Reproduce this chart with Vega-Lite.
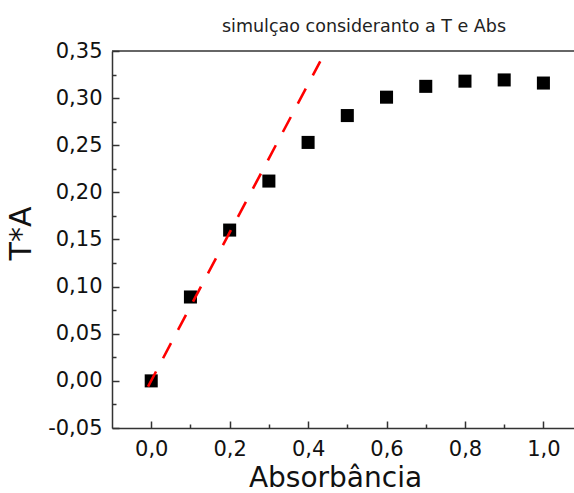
{
  "$schema": "https://vega.github.io/schema/vega-lite/v6.json",
  "autosize": {"type": "none"},
  "padding": {"left": 112, "top": 51, "right": 0, "bottom": 65},
  "width": 462,
  "height": 377,
  "background": "white",
  "config": {
    "view": {"stroke": null},
    "font": "DejaVu Sans",
    "axis": {"labelFont": "DejaVu Sans", "titleFont": "DejaVu Sans", "labelColor": "#111", "titleColor": "#111", "titleFontWeight": "normal", "grid": false, "domainColor": "#333", "tickColor": "#333", "domainWidth": 1.5, "tickWidth": 1.5}
  },
  "title": {"text": "simulçao consideranto a T e Abs", "fontSize": 17.5, "fontWeight": "normal", "font": "DejaVu Sans", "color": "#222", "anchor": "middle", "dx": 21, "offset": -9, "baseline": "alphabetic"},
  "datasets": {
    "pts": [
      {"abs": 0.0, "ta": 0.0},
      {"abs": 0.1, "ta": 0.089},
      {"abs": 0.2, "ta": 0.160},
      {"abs": 0.3, "ta": 0.212},
      {"abs": 0.4, "ta": 0.253},
      {"abs": 0.5, "ta": 0.2815},
      {"abs": 0.6, "ta": 0.301},
      {"abs": 0.7, "ta": 0.3125},
      {"abs": 0.8, "ta": 0.318},
      {"abs": 0.9, "ta": 0.3193},
      {"abs": 1.0, "ta": 0.316}
    ],
    "fit": [
      {"abs": -0.008, "ta": -0.006},
      {"abs": 0.431, "ta": 0.339}
    ],
    "top": [{"ta": 0.35}]
  },
  "layer": [
    {
      "data": {"name": "pts"},
      "mark": {"type": "point", "shape": "square", "filled": true, "color": "black", "size": 170, "opacity": 1},
      "encoding": {
        "x": {"field": "abs", "type": "quantitative", "scale": {"domain": [-0.1, 1.078], "nice": false, "zero": false},
          "axis": {"orient": "bottom", "title": "Absorbância", "titleFontSize": 28, "titleX": 223, "titleY": 58, "titleBaseline": "alphabetic", "titleAlign": "center", "labelFontSize": 21, "values": [0, 0.2, 0.4, 0.6, 0.8, 1.0], "tickSize": -7, "labelPadding": 17, "labelExpr": "replace(format(datum.value, '.1f'), '.', ',')"}},
        "y": {"field": "ta", "type": "quantitative", "scale": {"domain": [-0.05, 0.35], "nice": false, "zero": false},
          "axis": {"orient": "left", "title": "T*A", "titleFontSize": 30, "titleX": -82, "titleY": 182, "titleBaseline": "alphabetic", "titleAlign": "center", "titleAngle": -90, "labelFontSize": 21, "values": [-0.05, 0, 0.05, 0.1, 0.15, 0.2, 0.25, 0.3, 0.35], "tickSize": -7, "labelPadding": 17, "labelExpr": "replace(replace(format(datum.value, '.2f'), '.', ','), '\u2212', '-')"}}
      }
    },
    {
      "data": {"name": "fit"},
      "mark": {"type": "line", "color": "#ff0000", "strokeWidth": 2.6, "strokeDash": [17, 15]},
      "encoding": {
        "x": {"field": "abs", "type": "quantitative", "scale": {"domain": [-0.1, 1.078], "nice": false, "zero": false},
          "axis": {"orient": "bottom", "title": null, "labels": false, "domain": false, "values": [0.1, 0.3, 0.5, 0.7, 0.9], "tickSize": -4}},
        "y": {"field": "ta", "type": "quantitative", "scale": {"domain": [-0.05, 0.35], "nice": false, "zero": false},
          "axis": {"orient": "left", "title": null, "labels": false, "domain": false, "values": [-0.025, 0.025, 0.075, 0.125, 0.175, 0.225, 0.275, 0.325], "tickSize": -4}}
      }
    },
    {
      "data": {"name": "top"},
      "mark": {"type": "rule", "color": "#333", "strokeWidth": 1.5},
      "encoding": {
        "y": {"field": "ta", "type": "quantitative", "scale": {"domain": [-0.05, 0.35], "nice": false, "zero": false}, "axis": null}
      }
    }
  ],
  "resolve": {"axis": {"x": "independent", "y": "independent"}}
}
